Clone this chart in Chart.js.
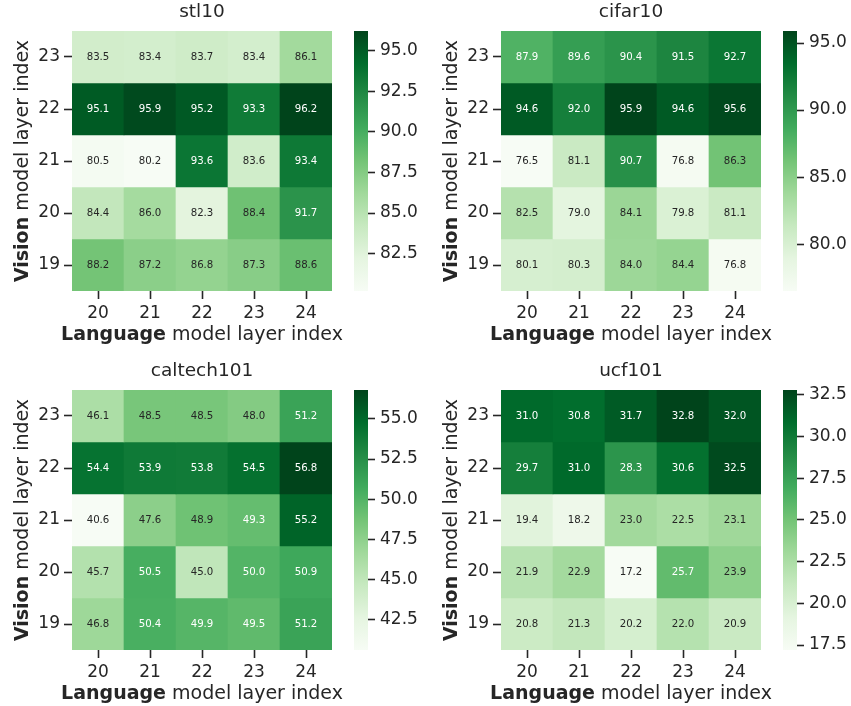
<!DOCTYPE html>
<html>
<head>
<meta charset="utf-8">
<script src="https://cdn.jsdelivr.net/npm/chart.js@4.4.1/dist/chart.umd.min.js"></script>
<style>
  html, body { margin: 0; padding: 0; background: #fff; overflow: hidden; }
  body { width: 851px; height: 706px; position: relative; }
  canvas { position: absolute; }
</style>
</head>
<body>
<canvas id="heat1" width="348" height="347" style="left:0;top:0"></canvas>
<canvas id="bar1" width="80" height="347" style="left:340px;top:0"></canvas>
<canvas id="heat2" width="348" height="347" style="left:429px;top:0"></canvas>
<canvas id="bar2" width="80" height="347" style="left:769px;top:0"></canvas>
<canvas id="heat3" width="348" height="347" style="left:0;top:359px"></canvas>
<canvas id="bar3" width="80" height="347" style="left:340px;top:359px"></canvas>
<canvas id="heat4" width="348" height="347" style="left:429px;top:359px"></canvas>
<canvas id="bar4" width="80" height="347" style="left:769px;top:359px"></canvas>
<script>
// rows from top to bottom, columns = language layers
let visionLayers = [23, 22, 21, 20, 19];
let languageLayers = ['20', '21', '22', '23', '24'];

let stl10 = [
    [83.5, 83.4, 83.7, 83.4, 86.1],
    [95.1, 95.9, 95.2, 93.3, 96.2],
    [80.5, 80.2, 93.6, 83.6, 93.4],
    [84.4, 86.0, 82.3, 88.4, 91.7],
    [88.2, 87.2, 86.8, 87.3, 88.6]
];
let cifar10 = [
    [87.9, 89.6, 90.4, 91.5, 92.7],
    [94.6, 92.0, 95.9, 94.6, 95.6],
    [76.5, 81.1, 90.7, 76.8, 86.3],
    [82.5, 79.0, 84.1, 79.8, 81.1],
    [80.1, 80.3, 84.0, 84.4, 76.8]
];
let caltech101 = [
    [46.1, 48.5, 48.5, 48.0, 51.2],
    [54.4, 53.9, 53.8, 54.5, 56.8],
    [40.6, 47.6, 48.9, 49.3, 55.2],
    [45.7, 50.5, 45.0, 50.0, 50.9],
    [46.8, 50.4, 49.9, 49.5, 51.2]
];
let ucf101 = [
    [31.0, 30.8, 31.7, 32.8, 32.0],
    [29.7, 31.0, 28.3, 30.6, 32.5],
    [19.4, 18.2, 23.0, 22.5, 23.1],
    [21.9, 22.9, 17.2, 25.7, 23.9],
    [20.8, 21.3, 20.2, 22.0, 20.9]
];

let stl10Ticks = [82.5, 85.0, 87.5, 90.0, 92.5, 95.0];
let cifar10Ticks = [80.0, 85.0, 90.0, 95.0];
let caltech101Ticks = [42.5, 45.0, 47.5, 50.0, 52.5, 55.0];
let ucf101Ticks = [17.5, 20.0, 22.5, 25.0, 27.5, 30.0, 32.5];

let xTitle = ['Language', ' model layer index'];
let yTitle = ['Vision', ' model layer index'];

const FONT = '"DejaVu Sans"';
const INK = '#262626';
Chart.defaults.font.family = FONT;
Chart.defaults.color = INK;

// matplotlib "Greens"
const greensStops = [
    [247, 252, 245], [229, 245, 224], [199, 233, 192], [161, 217, 155], [116, 196, 118],
    [65, 171, 93], [35, 139, 69], [0, 109, 44], [0, 68, 27]
];

function greens(t) {
    t = Math.max(0, Math.min(1, t));
    let pos = t * (greensStops.length - 1);
    let i = Math.min(Math.floor(pos), greensStops.length - 2);
    let f = pos - i;
    return greensStops[i].map((c, k) => c + (greensStops[i + 1][k] - c) * f);
}

function rgbStr(c) {
    return 'rgb(' + c.map(v => Math.round(v)).join(',') + ')';
}

// seaborn picks white text on dark cells
function textColor(c) {
    let lin = c.map(v => {
        v = v / 255;
        return v <= 0.03928 ? v / 12.92 : Math.pow((v + 0.055) / 1.055, 2.4);
    });
    let lum = 0.2126 * lin[0] + 0.7152 * lin[1] + 0.0722 * lin[2];
    return lum > 0.408 ? INK : '#ffffff';
}

function drawMixed(ctx, parts, cx, y) {
    let bold = 'bold 19px ' + FONT;
    let normal = '19px ' + FONT;
    ctx.font = bold;
    let w1 = ctx.measureText(parts[0]).width;
    ctx.font = normal;
    let w2 = ctx.measureText(parts[1]).width;
    let x = cx - (w1 + w2) / 2;
    ctx.textAlign = 'left';
    ctx.textBaseline = 'alphabetic';
    ctx.font = bold;
    ctx.fillText(parts[0], x, y);
    ctx.font = normal;
    ctx.fillText(parts[1], x + w1, y);
}

const axisTitles = {
    id: 'axisTitles',
    afterDraw(chart) {
        let ctx = chart.ctx;
        let a = chart.chartArea;
        ctx.save();
        ctx.fillStyle = INK;
        drawMixed(ctx, xTitle, (a.left + a.right) / 2, a.bottom + 49);
        ctx.translate(28, (a.top + a.bottom) / 2);
        ctx.rotate(-Math.PI / 2);
        drawMixed(ctx, yTitle, 0, 0);
        ctx.restore();
    }
};

const cellLabels = {
    id: 'cellLabels',
    afterDatasetsDraw(chart) {
        let ctx = chart.ctx;
        ctx.save();
        ctx.font = '10.2px ' + FONT;
        ctx.textAlign = 'center';
        ctx.textBaseline = 'middle';
        chart.data.datasets.forEach((ds, i) => {
            chart.getDatasetMeta(i).data.forEach((bar, j) => {
                let p = bar.getProps(['x', 'y', 'base'], true);
                ctx.fillStyle = textColor(ds.rgb[j]);
                ctx.fillText(ds.values[j].toFixed(1), p.x, (p.y + p.base) / 2);
            });
        });
        ctx.restore();
    }
};

function tickStyle() {
    return {
        grid: { drawOnChartArea: false, offset: false, tickLength: 8, tickWidth: 1.6, tickColor: INK },
        border: { display: false }
    };
}

function heatmap(id, title, values) {
    let flat = values.flat();
    let vmin = Math.min(...flat);
    let vmax = Math.max(...flat);
    let datasets = visionLayers.map((v, r) => {
        let rgb = values[r].map(x => greens((x - vmin) / (vmax - vmin)));
        return {
            label: String(v),
            data: values[r].map(() => [v - 0.5, v + 0.5]),
            values: values[r],
            rgb: rgb,
            backgroundColor: rgb.map(rgbStr),
            borderWidth: 0,
            grouped: false,
            barPercentage: 1,
            categoryPercentage: 1
        };
    });

    new Chart(document.getElementById(id), {
        type: 'bar',
        data: { labels: languageLayers, datasets: datasets },
        options: {
            responsive: false,
            animation: false,
            layout: { padding: { top: 0, right: 16, bottom: 0, left: 0 } },
            plugins: {
                legend: { display: false },
                tooltip: { enabled: false },
                title: {
                    display: true,
                    text: title,
                    fullSize: false,
                    color: INK,
                    font: { size: 18.5, weight: 'normal', lineHeight: 1 },
                    padding: { top: 2.7, bottom: 9.8 }
                }
            },
            scales: {
                x: {
                    type: 'category',
                    offset: true,
                    ...tickStyle(),
                    ticks: { color: INK, font: { size: 17 }, padding: 4, maxRotation: 0 },
                    afterFit: s => { s.height = 56; }
                },
                y: {
                    type: 'linear',
                    min: 18.5,
                    max: 23.5,
                    ...tickStyle(),
                    afterBuildTicks: s => { s.ticks = visionLayers.map(v => ({ value: v })); },
                    ticks: { color: INK, font: { size: 17 }, padding: 4, callback: v => String(v) },
                    afterFit: s => { s.width = 72; }
                }
            }
        },
        plugins: [cellLabels, axisTitles]
    });
    return [vmin, vmax];
}

function colorbar(id, range, ticks) {
    let vmin = range[0], vmax = range[1];
    new Chart(document.getElementById(id), {
        type: 'bar',
        data: {
            labels: [''],
            datasets: [{
                data: [[vmin, vmax]],
                backgroundColor: ctx => {
                    let a = ctx.chart.chartArea;
                    if (!a) return rgbStr(greensStops[4]);
                    let g = ctx.chart.ctx.createLinearGradient(0, a.bottom, 0, a.top);
                    greensStops.forEach((c, i) => g.addColorStop(i / (greensStops.length - 1), rgbStr(c)));
                    return g;
                },
                borderWidth: 0,
                barPercentage: 1,
                categoryPercentage: 1
            }]
        },
        options: {
            responsive: false,
            animation: false,
            layout: { padding: { top: 31, right: 0, bottom: 56, left: 14 } },
            plugins: { legend: { display: false }, tooltip: { enabled: false } },
            scales: {
                x: { display: false },
                y: {
                    position: 'right',
                    min: vmin,
                    max: vmax,
                    grid: { drawOnChartArea: false, tickLength: 7, tickWidth: 1.6, tickColor: INK },
                    border: { display: false },
                    afterBuildTicks: s => { s.ticks = ticks.map(v => ({ value: v })); },
                    ticks: { color: INK, font: { size: 17 }, padding: 5, callback: v => v.toFixed(1) },
                    afterFit: s => { s.width = 52; }
                }
            }
        }
    });
}

colorbar('bar1', heatmap('heat1', 'stl10', stl10), stl10Ticks);
colorbar('bar2', heatmap('heat2', 'cifar10', cifar10), cifar10Ticks);
colorbar('bar3', heatmap('heat3', 'caltech101', caltech101), caltech101Ticks);
colorbar('bar4', heatmap('heat4', 'ucf101', ucf101), ucf101Ticks);
</script>
</body>
</html>
